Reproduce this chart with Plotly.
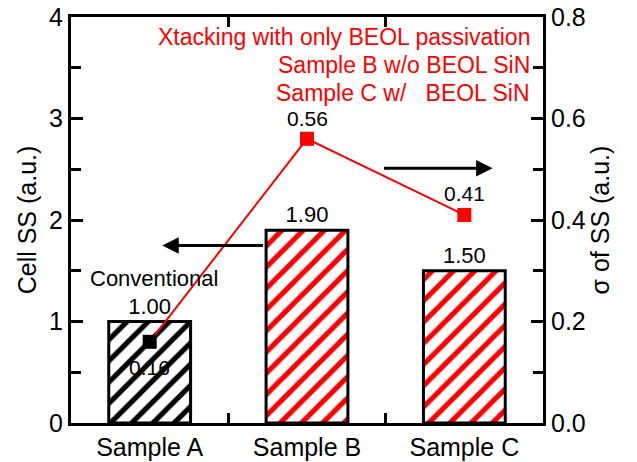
import plotly.graph_objects as go

categories = ["Sample A", "Sample B", "Sample C"]
cell_ss = [1.00, 1.90, 1.50]
sigma_ss = [0.16, 0.56, 0.41]
bar_hatch_colors = ["black", "red", "red"]
marker_colors = ["black", "red", "red"]
sigma_label_shift = [-26, 20, 21]
legend_lines = ["Xtacking with only BEOL passivation", "Sample B w/o BEOL SiN", "Sample C w/   BEOL SiN"]

FONT = "Liberation Sans, Arial, sans-serif"

fig = go.Figure()
fig.add_trace(go.Bar(
    x=categories, y=cell_ss, width=0.52,
    marker=dict(color="white", line=dict(color="black", width=3),
                pattern=dict(shape="/", fgcolor=bar_hatch_colors, bgcolor="white", fgopacity=1,
                             size=15, solidity=0.35)),
    text=[f"{v:.2f}" for v in cell_ss], textposition="outside", cliponaxis=False,
    textfont=dict(family=FONT, size=22, color="black"),
    showlegend=False, yaxis="y"))
fig.add_trace(go.Scatter(
    x=categories, y=sigma_ss, mode="lines+markers",
    line=dict(color="red", width=2),
    marker=dict(symbol="square", size=14, color=marker_colors),
    showlegend=False, yaxis="y2", cliponaxis=False))

annotations = []
for c, v, s in zip(categories, sigma_ss, sigma_label_shift):
    annotations.append(dict(xref="x", yref="y2", x=c, y=v, text=f"{v:.2f}", showarrow=False,
                            yshift=s, font=dict(family=FONT, size=21, color="black")))
for i, t in enumerate(legend_lines):
    annotations.append(dict(xref="paper", yref="paper", x=0.977, y=0.951 - i * 0.069, text=t,
                            showarrow=False, xanchor="right", yanchor="middle",
                            font=dict(family=FONT, size=23, color="red")))
annotations.append(dict(xref="x", yref="y", x=0.03, y=1.42, text="Conventional", showarrow=False,
                        font=dict(family=FONT, size=22, color="black")))
annotations.append(dict(xref="x", yref="y", axref="x", ayref="y", x=0.08, y=1.75, ax=0.73, ay=1.75,
                        text="", showarrow=True, arrowhead=2, arrowsize=1.1, arrowwidth=3, arrowcolor="black"))
annotations.append(dict(xref="x", yref="y", axref="x", ayref="y", x=2.18, y=2.51, ax=1.48, ay=2.51,
                        text="", showarrow=True, arrowhead=2, arrowsize=1.1, arrowwidth=3, arrowcolor="black"))

fig.update_layout(
    width=637, height=462, margin=dict(l=71, r=94, t=17, b=39, autoexpand=False),
    paper_bgcolor="white", plot_bgcolor="white",
    font=dict(family=FONT, size=25, color="black"),
    annotations=annotations,
    xaxis=dict(range=[-0.5, 2.5], showline=True, linecolor="black", linewidth=3, mirror="ticks",
               ticks="inside", tickson="boundaries", ticklen=10, tickwidth=3, tickcolor="black",
               tickfont=dict(family=FONT, size=25), showgrid=False, zeroline=False, automargin=False),
    yaxis=dict(range=[0, 4], dtick=1, showline=True, linecolor="black", linewidth=3,
               ticks="inside", ticklen=12, tickwidth=3, tickcolor="black",
               minor=dict(ticks="inside", dtick=0.5, ticklen=10, tickwidth=3, tickcolor="black"),
               title=dict(text="Cell SS (a.u.)", font=dict(family=FONT, size=25), standoff=6),
               tickfont=dict(family=FONT, size=25), showgrid=False, zeroline=False, automargin=False),
    yaxis2=dict(range=[0, 0.8], dtick=0.2, tickformat=".1f", overlaying="y", side="right",
                showline=True, linecolor="black", linewidth=3,
                ticks="inside", ticklen=12, tickwidth=3, tickcolor="black",
                minor=dict(ticks="inside", dtick=0.1, ticklen=10, tickwidth=3, tickcolor="black"),
                title=dict(text="σ of SS (a.u.)", font=dict(family=FONT, size=25), standoff=6),
                tickfont=dict(family=FONT, size=25), showgrid=False, zeroline=False, automargin=False),
)
fig.write_html("out.html")
